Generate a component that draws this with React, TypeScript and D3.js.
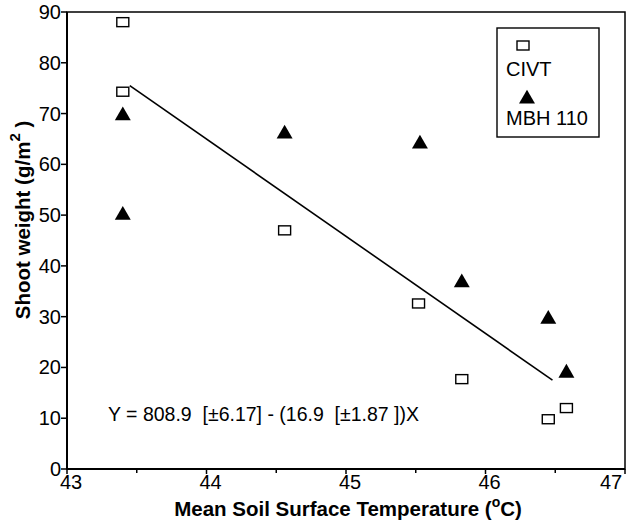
import * as d3 from "d3";

const civtX = [43.4, 43.4, 44.56, 45.52, 45.83, 46.45, 46.58];
const civtY = [88, 74.3, 47, 32.6, 17.7, 9.8, 12];
const mbhX = [43.4, 43.4, 44.56, 45.53, 45.83, 46.45, 46.58];
const mbhY = [69.6, 50, 66, 64, 36.7, 29.5, 18.9];
const fitX = [43.45, 46.48];
const fitY = [75.5, 17.5];
const xTicks = [43, 44, 45, 46, 47];
const xMinor = [43.5, 44.5, 45.5, 46.5];
const yTicks = [0, 10, 20, 30, 40, 50, 60, 70, 80, 90];

const W = 637;
const H = 522;
const font = "'Liberation Sans', Arial, sans-serif";

export default function App() {
  const x = d3.scaleLinear().domain([43, 47]).range([67, 625]);
  const y = d3.scaleLinear().domain([0, 90]).range([469, 12]);

  const line = d3
    .line<number>()
    .x((d) => x(d))
    .y((_, i) => y(fitY[i]));

  const tri = d3.symbol().type(d3.symbolTriangle).size(110)()!;

  return (
    <svg
      width={W}
      height={H}
      style={{ position: "absolute", left: 0, top: 0, background: "#fff" }}
      fontFamily={font}
    >
      {/* frame */}
      <rect
        x={x(43)}
        y={y(90)}
        width={x(47) - x(43)}
        height={y(0) - y(90)}
        fill="none"
        stroke="#000"
        strokeWidth={1.5}
      />
      <line x1={x(43)} x2={x(47)} y1={y(0)} y2={y(0)} stroke="#000" strokeWidth={2} />
      <line x1={x(43)} x2={x(43)} y1={y(0)} y2={y(90)} stroke="#000" strokeWidth={2} />

      {/* y ticks */}
      {yTicks.map((t) => (
        <g key={t}>
          <line x1={x(43) - 6} x2={x(43)} y1={y(t)} y2={y(t)} stroke="#000" strokeWidth={1.5} />
          <text
            x={x(43) - 6}
            y={y(t)}
            textAnchor="end"
            dominantBaseline="central"
            fontSize={20}
          >
            {t}
          </text>
        </g>
      ))}

      {/* x ticks */}
      {xTicks.map((t, i) => (
        <g key={t}>
          <line x1={x(t)} x2={x(t)} y1={y(0)} y2={y(0) + 5} stroke="#000" strokeWidth={1.5} />
          <text
            x={i === xTicks.length - 1 ? x(t) - 14 : x(t) + 4}
            y={489}
            textAnchor="middle"
            fontSize={20}
          >
            {t}
          </text>
        </g>
      ))}
      {xMinor.map((t) => (
        <line key={t} x1={x(t)} x2={x(t)} y1={y(0)} y2={y(0) + 4} stroke="#000" strokeWidth={1.5} />
      ))}

      {/* axis titles */}
      <text x={348} y={516} textAnchor="middle" fontSize={20.5} fontWeight="bold">
        Mean Soil Surface Temperature (
        <tspan fontSize={14} dy={-9}>o</tspan>
        <tspan dy={9}>C)</tspan>
      </text>
      <text
        transform="translate(30,220) rotate(-90)"
        textAnchor="middle"
        fontSize={20.5}
        fontWeight="bold"
      >
        Shoot weight (g/m
        <tspan fontSize={15} dy={-10}>2</tspan>
        <tspan dy={10}> )</tspan>
      </text>

      {/* fit line */}
      <path d={line(fitX)!} fill="none" stroke="#000" strokeWidth={1.6} />

      {/* CIVT squares */}
      {civtX.map((v, i) => (
        <rect
          key={i}
          x={x(v) - 6}
          y={y(civtY[i]) - 4.5}
          width={12}
          height={9}
          fill="#fff"
          stroke="#000"
          strokeWidth={1.4}
        />
      ))}

      {/* MBH 110 triangles */}
      {mbhX.map((v, i) => (
        <path key={i} d={tri} transform={`translate(${x(v)},${y(mbhY[i])})`} fill="#000" />
      ))}

      {/* equation */}
      <text x={108} y={421} fontSize={19.5} style={{ whiteSpace: "pre" }}>
        {"Y = 808.9  [±6.17] - (16.9  [±1.87 ])X"}
      </text>

      {/* legend */}
      <rect x={497} y={28} width={102} height={109} fill="#fff" stroke="#000" strokeWidth={1.4} />
      <rect x={517} y={41} width={12} height={9} fill="#fff" stroke="#000" strokeWidth={1.4} />
      <text x={506} y={76} fontSize={20}>CIVT</text>
      <path d={tri} transform="translate(527,99)" fill="#000" />
      <text x={506} y={125} fontSize={20}>MBH 110</text>
    </svg>
  );
}
